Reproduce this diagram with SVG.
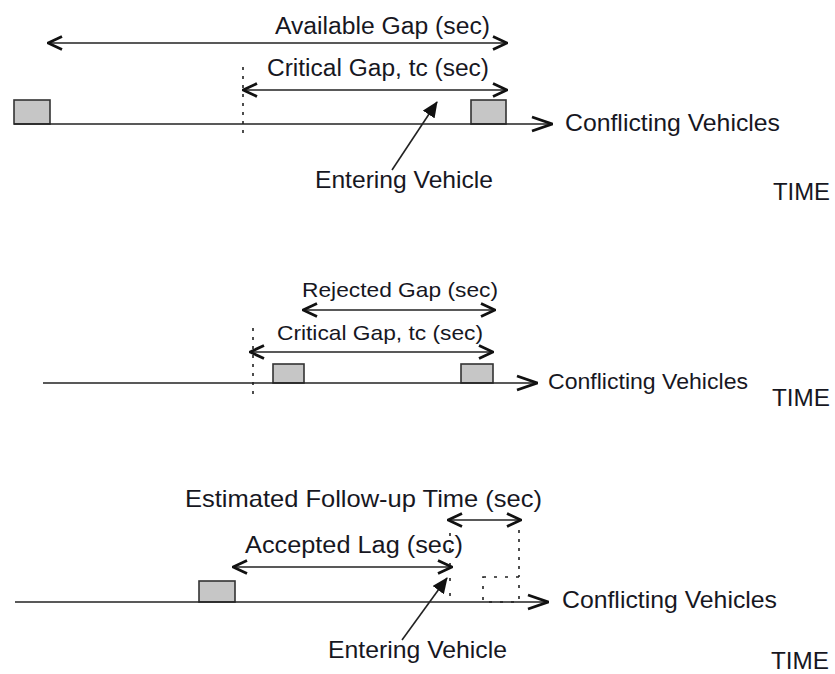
<svg xmlns="http://www.w3.org/2000/svg" width="835" height="674" viewBox="0 0 835 674">
<style>
  .ln{stroke:#222;stroke-width:1.6;fill:none}
  .gap{stroke:#222;stroke-width:1.6;fill:none;marker-start:url(#chev);marker-end:url(#chev)}
  .axis{stroke:#222;stroke-width:1.6;fill:none;marker-end:url(#bigchev)}
  .dot{stroke:#222;stroke-width:1.6;fill:none;stroke-dasharray:3 6}
  .veh{fill:#c6c6c6;stroke:#333;stroke-width:1.6}
  .ghost{fill:none;stroke:#222;stroke-width:1.6;stroke-dasharray:3 8}
  .ent{stroke:#222;stroke-width:1.6;fill:none;marker-end:url(#tri)}
  text{font-family:"Liberation Sans",Arial,sans-serif;fill:#17171f}
</style>
<defs>
  <marker id="chev" viewBox="0 0 16 16" refX="15" refY="8" markerWidth="16" markerHeight="16" markerUnits="userSpaceOnUse" orient="auto-start-reverse">
    <path d="M1,1.5 L15,8 L1,14.5" fill="none" stroke="#111" stroke-width="2.8"/>
  </marker>
  <marker id="bigchev" viewBox="0 0 22 18" refX="21" refY="9" markerWidth="22" markerHeight="18" markerUnits="userSpaceOnUse" orient="auto">
    <path d="M1,2 L21,9 L1,16" fill="none" stroke="#111" stroke-width="2.8"/>
  </marker>
  <marker id="tri" viewBox="0 0 16 14" refX="15" refY="7" markerWidth="16" markerHeight="14" markerUnits="userSpaceOnUse" orient="auto">
    <path d="M0,0 L16,7 L0,14 Z" fill="#111"/>
  </marker>
</defs>

<!-- Panel 1 -->
<g id="p1-vehicle-left"><rect class="veh" x="14" y="100" width="36" height="24"/></g>
<g id="p1-vehicle-right"><rect class="veh" x="471" y="100" width="35" height="24"/></g>
<g id="p1-available-label"><text x="275" y="34" font-size="23" textLength="215" lengthAdjust="spacingAndGlyphs">Available Gap (sec)</text></g>
<g id="p1-critical-label"><text x="267" y="76" font-size="23" textLength="222" lengthAdjust="spacingAndGlyphs">Critical Gap, tc (sec)</text></g>
<g id="p1-entering-label"><text x="315" y="188" font-size="24" textLength="178" lengthAdjust="spacingAndGlyphs">Entering Vehicle</text></g>
<g id="p1-conflicting-label"><text x="565" y="131" font-size="24" textLength="215" lengthAdjust="spacingAndGlyphs">Conflicting Vehicles</text></g>
<g id="p1-time"><text x="773" y="200" font-size="24" textLength="57" lengthAdjust="spacingAndGlyphs">TIME</text></g>

<!-- Panel 2 -->
<g id="p2-vehicle-left"><rect class="veh" x="273" y="364" width="31" height="19"/></g>
<g id="p2-vehicle-right"><rect class="veh" x="461" y="364" width="32" height="19"/></g>
<g id="p2-rejected-label"><text x="302" y="297" font-size="21" textLength="196" lengthAdjust="spacingAndGlyphs">Rejected Gap (sec)</text></g>
<g id="p2-critical-label"><text x="277" y="340" font-size="21" textLength="206" lengthAdjust="spacingAndGlyphs">Critical Gap, tc (sec)</text></g>
<g id="p2-conflicting-label"><text x="548" y="389" font-size="22" textLength="200" lengthAdjust="spacingAndGlyphs">Conflicting Vehicles</text></g>
<g id="p2-time"><text x="772" y="406" font-size="24" textLength="58" lengthAdjust="spacingAndGlyphs">TIME</text></g>

<!-- Panel 3 -->
<g id="p3-vehicle"><rect class="veh" x="199" y="581" width="36" height="21"/></g>
<g id="p3-ghost-vehicle"><rect class="ghost" x="483" y="577" width="36" height="25"/></g>
<g id="p3-followup-label"><text x="185" y="507" font-size="24" textLength="357" lengthAdjust="spacingAndGlyphs">Estimated Follow-up Time (sec)</text></g>
<g id="p3-accepted-label"><text x="245" y="553" font-size="23" textLength="218" lengthAdjust="spacingAndGlyphs">Accepted Lag (sec)</text></g>
<g id="p3-conflicting-label"><text x="562" y="608" font-size="24" textLength="215" lengthAdjust="spacingAndGlyphs">Conflicting Vehicles</text></g>
<g id="p3-entering-label"><text x="328" y="658" font-size="24" textLength="179" lengthAdjust="spacingAndGlyphs">Entering Vehicle</text></g>
<g id="p3-time"><text x="771" y="669" font-size="24" textLength="58" lengthAdjust="spacingAndGlyphs">TIME</text></g>

<g id="connectors">
  <!-- panel 1 -->
  <line class="gap" x1="48" y1="43" x2="507" y2="43"/>
  <line class="gap" x1="243" y1="90" x2="507" y2="90"/>
  <line class="dot" x1="243" y1="67" x2="243" y2="135"/>
  <line class="axis" x1="14" y1="124" x2="552" y2="124"/>
  <line class="ent" x1="392" y1="170" x2="437" y2="102"/>
  <!-- panel 2 -->
  <line class="gap" x1="303" y1="310" x2="495" y2="310"/>
  <line class="gap" x1="250" y1="352" x2="493" y2="352"/>
  <line class="dot" x1="253" y1="328" x2="253" y2="400"/>
  <line class="axis" x1="43" y1="383" x2="537" y2="383"/>
  <!-- panel 3 -->
  <line class="gap" x1="448" y1="520" x2="521" y2="520"/>
  <line class="dot" x1="519" y1="530" x2="519" y2="577"/>
  <line class="dot" x1="450" y1="533" x2="450" y2="600" style="stroke-dasharray:3 12"/>
  <line class="gap" x1="233" y1="567" x2="452" y2="567"/>
  <line class="axis" x1="15" y1="602" x2="548" y2="602"/>
  <line class="ent" x1="402" y1="640" x2="447" y2="578"/>
</g>
</svg>
